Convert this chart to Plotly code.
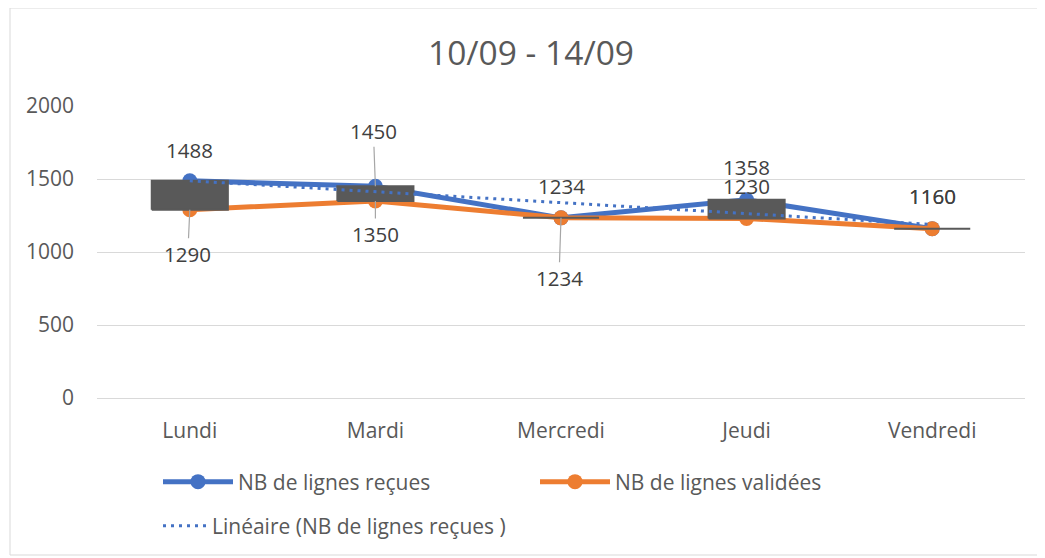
import numpy as np
import plotly.graph_objects as go

# ---- data ----
days = ["Lundi", "Mardi", "Mercredi", "Jeudi", "Vendredi"]
recues = [1488, 1450, 1234, 1358, 1160]
validees = [1290, 1350, 1234, 1230, 1160]
title_text = "10/09 - 14/09"
y_ticks = [0, 500, 1000, 1500, 2000]
name_recues = "NB de lignes reçues"
name_validees = "NB de lignes validées"
name_trend = "Linéaire (NB de lignes reçues )"

# label offsets (px): (dx, dy, leader)
lab_recues = [(0, -31, False), (-2, -55, True), (0, -32, False), (0, -33, False), (0, -33, False)]
lab_validees = [(-2, 44, True), (0, 33, True), (-2, 60, True), (0, -32, False), (0, -33, False)]

BLUE = "#4472C4"
ORANGE = "#ED7D31"
BOX = "#595959"
TXT = "#595959"
LAB = "#404040"
GRID = "#D9D9D9"
FONT = "Open Sans"

xs = list(range(len(days)))
coef = np.polyfit(np.arange(1, len(days) + 1), np.array(recues, float), 1)
trend = np.polyval(coef, np.arange(1, len(days) + 1))

fig = go.Figure()

fig.add_trace(go.Scatter(x=xs, y=recues, mode="lines+markers", name=name_recues,
                         line=dict(color=BLUE, width=5), marker=dict(size=15, color=BLUE),
                         legend="legend"))
fig.add_trace(go.Scatter(x=xs, y=validees, mode="lines+markers", name=name_validees,
                         line=dict(color=ORANGE, width=5), marker=dict(size=15, color=ORANGE),
                         legend="legend"))

half = 0.205
for i, (a, b) in enumerate(zip(recues, validees)):
    lo, hi = min(a, b), max(a, b)
    fig.add_trace(go.Scatter(x=[i - half, i + half, i + half, i - half, i - half],
                             y=[lo, lo, hi, hi, lo], mode="lines", fill="toself",
                             fillcolor=BOX, line=dict(color=BOX, width=2),
                             showlegend=False, hoverinfo="skip"))

fig.add_trace(go.Scatter(x=xs, y=trend, mode="lines", name=name_trend,
                         line=dict(color=BLUE, width=3, dash="3px,5px"),
                         legend="legend2"))

ann = []
for series, labs in ((recues, lab_recues), (validees, lab_validees)):
    for i, v in enumerate(series):
        dx, dy, leader = labs[i]
        ann.append(dict(x=i, y=v, xref="x", yref="y", text=str(v), showarrow=True,
                        ax=dx, ay=dy, arrowhead=0, arrowwidth=1.2, standoff=0,
                        arrowcolor="#A6A6A6" if leader else "rgba(0,0,0,0)",
                        font=dict(family=FONT, size=20.5, color=LAB)))

ann.append(dict(text=title_text, xref="paper", yref="paper",
                x=(531 - 97) / 928, y=(398 - 52) / 292, xanchor="center", yanchor="middle",
                showarrow=False, font=dict(family=FONT, size=33.5, color=TXT)))

# page body has an 8px margin: size/margins compensate so the plot area lands in place
fig.update_layout(
    width=1037, height=550,
    margin=dict(l=89, r=20, t=98, b=160),
    paper_bgcolor="white", plot_bgcolor="white",
    annotations=ann,
    xaxis=dict(range=[-0.5, len(days) - 0.5], tickvals=xs, ticktext=days, showgrid=False,
               zeroline=False, showline=True, linecolor=GRID, linewidth=1, ticks="",
               tickfont=dict(family=FONT, size=21, color=TXT), ticklabelstandoff=14),
    yaxis=dict(range=[0, 2000], tickvals=y_ticks, showgrid=True, gridcolor=GRID, gridwidth=1,
               zeroline=False, showline=False, ticks="",
               tickfont=dict(family=FONT, size=21, color=TXT), ticklabelstandoff=22),
    legend=dict(orientation="h", x=(158 - 97) / 928, xanchor="left", y=(398 - 482) / 292,
                yanchor="middle", itemwidth=70, entrywidth=292, entrywidthmode="pixels",
                font=dict(family=FONT, size=21, color=TXT), bgcolor="rgba(0,0,0,0)"),
    legend2=dict(orientation="h", x=(158 - 97) / 928, xanchor="left", y=(398 - 526) / 292,
                 yanchor="middle", itemwidth=44,
                 font=dict(family=FONT, size=21, color=TXT), bgcolor="rgba(0,0,0,0)"),
    shapes=[dict(type="rect", xref="paper", yref="paper",
                 x0=(10 - 97) / 928, x1=(1040 - 97) / 928,
                 y0=(398 - 555) / 292, y1=(398 - 8) / 292,
                 line=dict(color=GRID, width=1), fillcolor="rgba(0,0,0,0)", layer="below")],
    showlegend=True,
)

fig.write_html("out.html")
